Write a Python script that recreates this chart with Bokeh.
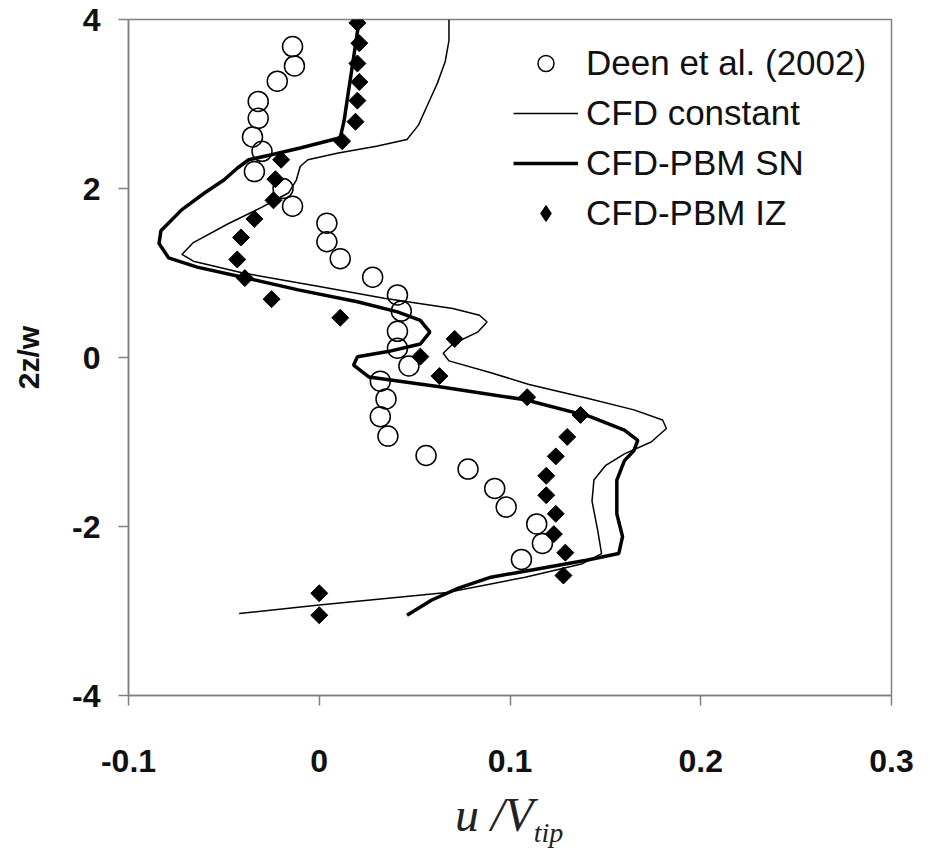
import numpy as np
from bokeh.plotting import figure
from bokeh.models import Range1d, FixedTicker, Legend, LegendItem, Div
from bokeh.layouts import column
from bokeh.embed import file_html
from bokeh.resources import INLINE

# Deen et al. (2002) experimental data (u/Vtip, 2z/w)
deen_u = [-0.014, -0.013, -0.022, -0.032, -0.032, -0.035, -0.030, -0.034, -0.019, -0.014,
          0.004, 0.004, 0.011, 0.028, 0.041, 0.043, 0.041, 0.041, 0.047, 0.032,
          0.035, 0.032, 0.036, 0.056, 0.078, 0.092, 0.098, 0.114, 0.117, 0.106]
deen_z = [3.68, 3.45, 3.27, 3.03, 2.83, 2.61, 2.44, 2.20, 2.00, 1.79,
          1.59, 1.37, 1.17, 0.95, 0.74, 0.55, 0.31, 0.11, -0.10, -0.28,
          -0.49, -0.70, -0.93, -1.16, -1.32, -1.55, -1.77, -1.97, -2.20, -2.39]

# CFD constant
const_u = [0.068, 0.068, 0.066, 0.062, 0.058, 0.052, 0.046, 0.030, 0.010, -0.006,
           -0.010, -0.012, -0.016, -0.030, -0.048, -0.066, -0.072, -0.066, -0.040, 0.000,
           0.034, 0.070, 0.084, 0.088, 0.083, 0.070, 0.065, 0.068, 0.090, 0.110,
           0.140, 0.165, 0.180, 0.182, 0.174, 0.160, 0.150, 0.144, 0.143, 0.146,
           0.148, 0.138, 0.108, 0.067, 0.000, -0.042]
const_z = [4.00, 3.75, 3.50, 3.25, 3.05, 2.75, 2.58, 2.50, 2.42, 2.34,
           2.26, 2.10, 1.95, 1.78, 1.58, 1.36, 1.22, 1.14, 1.00, 0.84,
           0.70, 0.58, 0.50, 0.42, 0.30, 0.16, 0.05, -0.04, -0.18, -0.32,
           -0.48, -0.62, -0.74, -0.84, -1.00, -1.14, -1.28, -1.45, -1.70, -2.05,
           -2.32, -2.44, -2.60, -2.78, -2.93, -3.03]

# CFD-PBM SN
sn_u = [0.021, 0.019, 0.017, 0.015, 0.013, 0.011, -0.010, -0.025, -0.037, -0.043,
        -0.050, -0.060, -0.072, -0.083, -0.084, -0.079, -0.064, -0.040, -0.011, 0.020,
        0.041, 0.053, 0.058, 0.053, 0.036, 0.020, 0.018, 0.026, 0.064, 0.108,
        0.142, 0.160, 0.167, 0.165, 0.160, 0.156, 0.156, 0.159, 0.157, 0.140,
        0.110, 0.090, 0.073, 0.059, 0.046]
sn_z = [4.00, 3.70, 3.40, 3.10, 2.80, 2.60, 2.48, 2.40, 2.34, 2.24,
        2.10, 1.95, 1.75, 1.50, 1.35, 1.18, 1.07, 0.95, 0.80, 0.66,
        0.54, 0.44, 0.30, 0.16, 0.07, 0.01, -0.09, -0.23, -0.35, -0.50,
        -0.70, -0.86, -0.98, -1.10, -1.22, -1.45, -1.85, -2.12, -2.32, -2.40,
        -2.52, -2.60, -2.73, -2.87, -3.05]

# CFD-PBM IZ
iz_u = [0.020, 0.021, 0.020, 0.021, 0.020, 0.019, 0.012, -0.020, -0.023, -0.024,
        -0.034, -0.041, -0.043, -0.039, -0.025, 0.011, 0.071, 0.053, 0.063, 0.109,
        0.137, 0.130, 0.124, 0.119, 0.119, 0.124, 0.123, 0.129, 0.128, 0.000, 0.000]
iz_z = [3.96, 3.72, 3.48, 3.26, 3.04, 2.79, 2.56, 2.34, 2.11, 1.86,
        1.64, 1.42, 1.16, 0.94, 0.69, 0.47, 0.22, 0.01, -0.22, -0.47,
        -0.68, -0.94, -1.17, -1.40, -1.63, -1.85, -2.09, -2.31, -2.58, -2.79, -3.05]

x_ticks = [-0.1, 0, 0.1, 0.2, 0.3]
x_tick_labels = ["-0.1", "0", "0.1", "0.2", "0.3"]
y_ticks = [-4, -2, 0, 2, 4]
y_tick_labels = ["-4", "-2", "0", "2", "4"]
series_names = ["Deen et al. (2002)", "CFD constant", "CFD-PBM SN", "CFD-PBM IZ"]
y_title = "2z/w"

p = figure(width=914, height=787, output_backend="svg", toolbar_location=None,
           x_range=Range1d(-0.1, 0.3), y_range=Range1d(-4, 4),
           min_border_left=128, min_border_right=23, min_border_top=19, min_border_bottom=92)
p.grid.visible = False
p.outline_line_color = "#808080"
p.outline_line_width = 1.5
p.background_fill_color = "white"

for ax in (p.xaxis[0], p.yaxis[0]):
    ax.axis_line_color = "#808080"
    ax.axis_line_width = 1.5
    ax.major_tick_line_color = "#808080"
    ax.major_tick_line_width = 1.5
    ax.major_tick_in = 0
    ax.major_tick_out = 10
    ax.minor_tick_line_color = None
    ax.major_label_text_font = "Liberation Sans"
    ax.major_label_text_font_style = "bold"
    ax.major_label_text_font_size = "32px"
    ax.major_label_text_color = "#111111"

p.xaxis.ticker = FixedTicker(ticks=x_ticks)
p.xaxis.major_label_overrides = {t: l for t, l in zip(x_ticks, x_tick_labels)}
p.xaxis.major_label_standoff = 44
p.yaxis.ticker = FixedTicker(ticks=y_ticks)
p.yaxis.major_label_overrides = {t: l for t, l in zip(y_ticks, y_tick_labels)}
p.yaxis.major_label_standoff = 18
p.yaxis.axis_label = y_title
p.yaxis.axis_label_text_font = "Liberation Sans"
p.yaxis.axis_label_text_font_style = "bold"
p.yaxis.axis_label_text_font_size = "30px"
p.yaxis.axis_label_text_color = "#111111"
p.yaxis.axis_label_standoff = 24

r_const = p.line(const_u, const_z, line_color="black", line_width=1.5)
r_sn = p.line(sn_u, sn_z, line_color="black", line_width=3.5)
r_deen = p.scatter(deen_u, deen_z, marker="circle", size=20, line_color="black",
                   line_width=1.5, fill_color=None)
r_iz = p.scatter(iz_u, iz_z, marker="square", angle=np.pi / 4, size=12,
                 line_color="black", fill_color="black")
# legend key only (NaN position, not drawn in the plot) so the legend shows a diamond
r_iz_key = p.scatter(x=np.array([np.nan]), y=np.array([np.nan]), marker="diamond", size=22,
                     line_color="black", fill_color="black")

legend = Legend(items=[LegendItem(label=series_names[0], renderers=[r_deen]),
                       LegendItem(label=series_names[1], renderers=[r_const]),
                       LegendItem(label=series_names[2], renderers=[r_sn]),
                       LegendItem(label=series_names[3], renderers=[r_iz_key])],
                location=(385, 462), orientation="vertical",
                label_text_font="Liberation Sans", label_text_font_size="35px",
                label_text_color="#111111",
                glyph_width=65, glyph_height=40, label_height=40, spacing=10,
                padding=0, margin=0, label_standoff=8,
                border_line_color=None, background_fill_alpha=0)
p.add_layout(legend, "center")

x_title = Div(
    text=('<div style="padding-left:455px; padding-top:9px; line-height:38px; '
          'white-space:nowrap; font-family:\'Liberation Serif\', serif; font-style:italic; '
          'font-size:48px; color:#222222;">u /V<span style="font-size:28px; '
          'vertical-align:-11px;">tip</span></div>'),
    width=914, height=59, margin=(0, 0, 0, 0))

layout = column(p, x_title, spacing=0)
open("out.html", "w").write(file_html(layout, INLINE))
